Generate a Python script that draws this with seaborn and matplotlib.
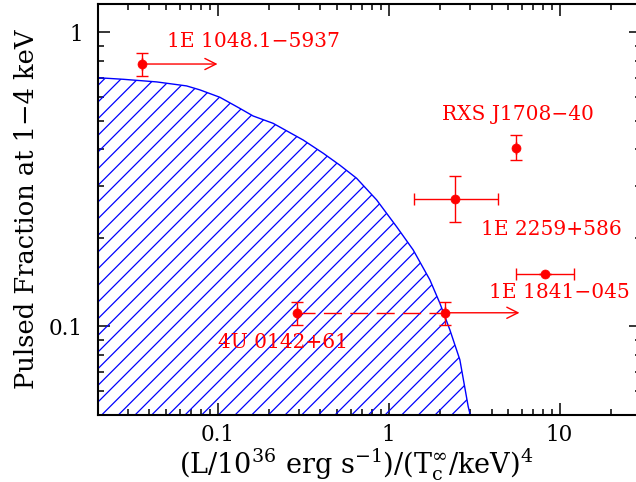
import matplotlib
matplotlib.use('Agg')
import matplotlib.pyplot as plt
import matplotlib.ticker as mticker
import seaborn as sns
import pandas as pd
import numpy as np

sns.set_theme(style='ticks')
plt.rcParams['font.family'] = ['DejaVu Serif']
plt.rcParams['mathtext.fontset'] = 'dejavuserif'
plt.rcParams['hatch.color'] = 'blue'
plt.rcParams['hatch.linewidth'] = 0.9
plt.rcParams['text.color'] = 'black'
plt.rcParams['axes.labelcolor'] = 'black'
plt.rcParams['xtick.color'] = 'black'
plt.rcParams['ytick.color'] = 'black'

# --- data ---
# boundary of the excluded (hatched) region
curve_x = [0.0197, 0.0281, 0.0440, 0.0659, 0.0788, 0.1032, 0.135, 0.1615,
           0.2114, 0.3166, 0.4145, 0.517, 0.650, 0.851, 1.114, 1.393, 1.744,
           1.995, 2.283, 2.612, 2.921, 3.0]
curve_y = [0.701, 0.692, 0.678, 0.657, 0.637, 0.601, 0.551, 0.519, 0.490,
           0.430, 0.3877, 0.3536, 0.3187, 0.269, 0.218, 0.1817, 0.1437,
           0.1197, 0.0971, 0.0768, 0.0533, 0.050]

names = ['1E 1048.1\u22125937', 'RXS J1708\u221240', '1E 2259+586',
         '1E 1841\u2212045', '4U 0142+61', '4U 0142+61']
src_x = [0.0362, 5.57, 2.46, 8.24, 0.29, 2.15]
src_y = [0.78, 0.405, 0.270, 0.151, 0.111, 0.111]
y_lo = [0.71, 0.367, 0.226, 0.151, 0.101, 0.101]
y_hi = [0.852, 0.447, 0.325, 0.151, 0.121, 0.121]
x_lo = [0.0362, 5.57, 1.41, 5.53, 0.29, 2.15]
x_hi = [0.0362, 5.57, 4.34, 12.2, 0.29, 2.15]

# lower limits (arrows): start x, end x, y
arrow_x0 = [0.0362, 2.15]
arrow_x1 = [0.1, 5.83]
arrow_y = [0.78, 0.111]

label_text = ['1E 1048.1\u22125937', 'RXS J1708\u221240', '1E 2259+586',
              '1E 1841\u2212045', '4U 0142+61']
label_x = [0.0506, 5.74, 8.9, 10.0, 0.241]
label_y = [0.927, 0.527, 0.213, 0.130, 0.0877]
label_ha = ['left', 'center', 'center', 'center', 'center']

df = pd.DataFrame({'name': names, 'x': src_x, 'y': src_y})
curve = pd.DataFrame({'x': curve_x, 'y': curve_y})

fig = plt.figure(figsize=(6.36, 4.82), dpi=100)
ax = fig.add_axes([0.1541, 0.140, 0.854, 0.852])
ax.set_xscale('log')
ax.set_yscale('log')
ax.set_xlim(0.02, 30)
ax.set_ylim(0.05, 1.25)

# hatched region
ax.fill_between(curve_x, 0.01, curve_y, facecolor='none', edgecolor='blue',
                hatch='//', linewidth=0, zorder=1)
sns.lineplot(data=curve, x='x', y='y', sort=False, color='blue', lw=1,
             ax=ax, zorder=2)

# error bars
yerr = [np.array(src_y) - np.array(y_lo), np.array(y_hi) - np.array(src_y)]
xerr = [np.array(src_x) - np.array(x_lo), np.array(x_hi) - np.array(src_x)]
ax.errorbar(src_x, src_y, yerr=yerr, xerr=xerr, fmt='none', ecolor='red',
            elinewidth=1, capsize=4.5, capthick=1, zorder=3)
sns.scatterplot(data=df, x='x', y='y', color='red', s=42, edgecolor='red',
                linewidth=0.5, ax=ax, zorder=4, legend=False)

# dashed link between the two 4U 0142+61 estimates
ax.plot([src_x[4], src_x[5]], [src_y[4], src_y[5]], color='red', lw=1,
        ls=(0, (13, 6)), zorder=3)
for x0, x1, y in zip(arrow_x0, arrow_x1, arrow_y):
    ax.annotate('', xy=(x1, y), xytext=(x0, y),
                arrowprops=dict(arrowstyle='->', color='red', lw=1,
                                mutation_scale=20, shrinkA=0, shrinkB=0),
                zorder=3)

for t, x, y, ha in zip(label_text, label_x, label_y, label_ha):
    ax.text(x, y, t, color='red', fontsize=14.5, ha=ha, va='center', zorder=5)

# axes styling
for s in ax.spines.values():
    s.set_linewidth(1.5)
    s.set_color('black')
ax.tick_params(which='both', direction='in', top=True, right=True,
               color='black', labelcolor='black', width=1.1)
ax.tick_params(which='major', length=8.5, labelsize=15.5)
ax.tick_params(which='minor', length=4.5)
ax.tick_params(axis='x', pad=7)
ax.tick_params(axis='y', pad=11)
ax.xaxis.set_major_locator(mticker.FixedLocator([0.1, 1, 10]))
ax.xaxis.set_major_formatter(mticker.FixedFormatter(['0.1', '1', '10']))
ax.yaxis.set_major_locator(mticker.FixedLocator([0.1, 1]))
ax.yaxis.set_major_formatter(mticker.FixedFormatter(['0.1', '1']))
ax.xaxis.set_minor_locator(mticker.LogLocator(base=10, subs=np.arange(2, 10)))
ax.yaxis.set_minor_locator(mticker.LogLocator(base=10, subs=np.arange(2, 10)))
ax.xaxis.set_minor_formatter(mticker.NullFormatter())
ax.yaxis.set_minor_formatter(mticker.NullFormatter())

ax.set_xlabel(r'(L/10$^{36}$ erg s$^{-1}$)/(T$_{\mathrm{c}}^{\infty}$/keV)$^{4}$',
              fontsize=19.5, color='black')
ax.set_ylabel('Pulsed Fraction at 1\u22124 keV', fontsize=18.5, color='black')
ax.xaxis.set_label_coords(0.475, -0.078)
ax.yaxis.set_label_coords(-0.108, 0.5)

fig.savefig('out.png', dpi=100)
